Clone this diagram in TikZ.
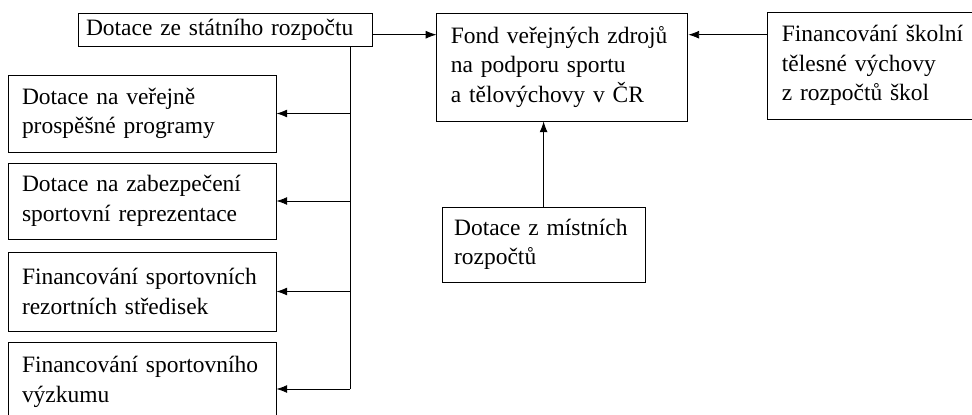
\documentclass[tikz,border=0pt]{standalone}
\usepackage{fontspec}
\setmainfont{Liberation Serif}
\usetikzlibrary{positioning, calc, arrows.meta}

\begin{document}
\begin{tikzpicture}[box/.style={draw, line width=0.6pt, inner xsep=0.35cm, inner ysep=0pt, align=left, font=\fontsize{16.7}{21}\selectfont},
					arr/.style={-{Latex[length=2.7mm, width=2mm]}, line width=0.6pt}]
					\useasboundingbox (0,0) rectangle (24.3,10.35);
					\clip (0,0) rectangle (24.3,10.35);
					\node (0) at (5.625, 9.6125) [box, inner xsep=0.2cm, text width=6.95cm, minimum height=0.825cm] {Dotace ze státního rozpočtu};
					\node (1) at (14.06, 8.675) [box, text width=5.575cm, minimum height=2.7cm] {Fond veřejných zdrojů\\na podporu sportu\\a tělovýchovy v ČR};
					\node (2) at (21.91, 8.7125) [box, text width=4.725cm, minimum height=2.675cm] {Financování školní\\tělesné výchovy\\z rozpočtů škol};
					\node (3) at (13.59, 4.2375) [box, inner xsep=0.3cm, text width=4.475cm, minimum height=1.875cm] {Dotace z místních\\rozpočtů};
					\node (4) at (3.55, 7.5125) [box, text width=6cm, minimum height=1.925cm] {Dotace na veřejně\\prospěšné programy};
					\node (5) at (3.55, 5.325) [box, text width=6cm, minimum height=1.9cm] {Dotace na zabezpečení\\sportovní reprezentace};
					\node (6) at (3.55, 3.0625) [box, text width=6cm, minimum height=1.975cm] {Financování sportovních\\rezortních středisek};
					\node (7) at (3.55, 0.8) [box, text width=6cm, minimum height=2cm] {Financování sportovního\\výzkumu};
					\coordinate (8) at ([yshift=-1.3mm]0.east);
					\coordinate (9) at (8.75, 0.625);
					
					\draw[arr] (8) to (8 -| 1.west);
					\draw[arr] (8 -| 2.west) to (8 -| 1.east);
					\draw[arr] (3.north) to (3.north |- 1.south);
					\draw[line width=0.6pt] (0.south -| 9) to (9);
					\draw[arr] (4.east -| 9) to (4.east);
					\draw[arr] (5.east -| 9) to (5.east);
					\draw[arr] (6.east -| 9) to (6.east);
					\draw[arr] (9) to (9 -| 7.east);
				\end{tikzpicture}
\end{document}
